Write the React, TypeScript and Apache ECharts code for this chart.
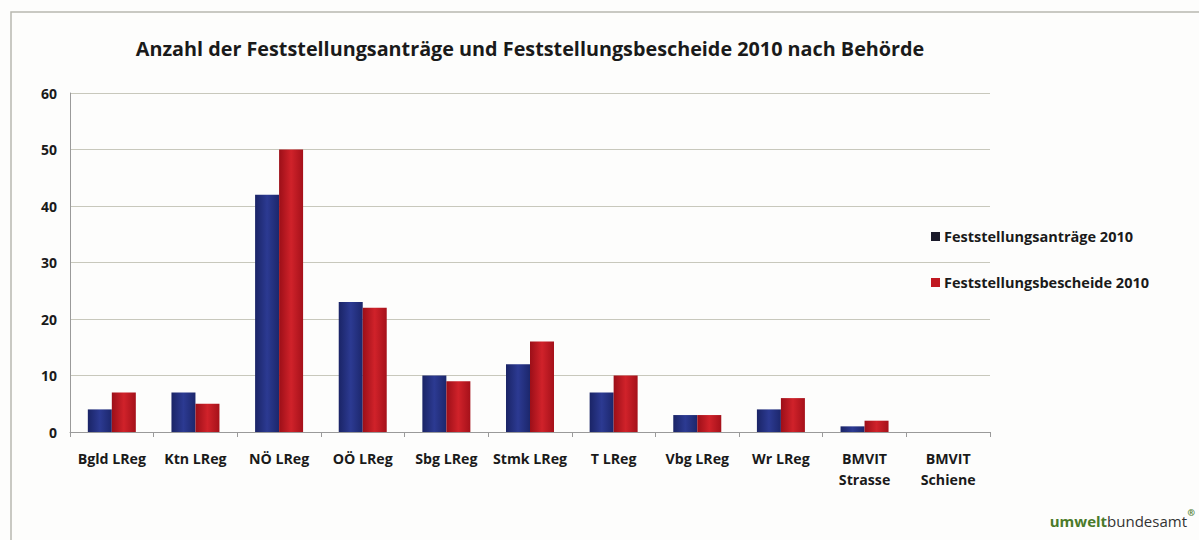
import React, { useEffect, useRef } from "react";
import * as echarts from "echarts";

const categories = [
  "Bgld LReg",
  "Ktn LReg",
  "NÖ LReg",
  "OÖ LReg",
  "Sbg LReg",
  "Stmk LReg",
  "T LReg",
  "Vbg LReg",
  "Wr LReg",
  "BMVIT\nStrasse",
  "BMVIT\nSchiene",
];
const antraege = [4, 7, 42, 23, 10, 12, 7, 3, 4, 1, 0];
const bescheide = [7, 5, 50, 22, 9, 16, 10, 3, 6, 2, 0];
const seriesNames = ["Feststellungsanträge 2010", "Feststellungsbescheide 2010"];
const titleText = "Anzahl der Feststellungsanträge und Feststellungsbescheide 2010 nach Behörde";

const FONT = "'Open Sans', Lato, sans-serif";

export default function App() {
  const ref = useRef<HTMLDivElement>(null);
  useEffect(() => {
    document.body.style.margin = "0";
    const chart = echarts.init(ref.current!, null, { renderer: "svg" });
    const blue = new echarts.graphic.LinearGradient(0, 0, 1, 0, [
      { offset: 0, color: "#1a2466" },
      { offset: 0.5, color: "#2c3a92" },
      { offset: 1, color: "#1c276c" },
    ]);
    const red = new echarts.graphic.LinearGradient(0, 0, 1, 0, [
      { offset: 0, color: "#9c0f18" },
      { offset: 0.5, color: "#d0222a" },
      { offset: 1, color: "#a5111a" },
    ]);
    chart.setOption({
      animation: false,
      backgroundColor: "#fdfdfc",
      textStyle: { fontFamily: FONT },
      title: {
        text: titleText,
        left: 525,
        top: 33,
        textAlign: "center",
        textStyle: { fontFamily: FONT, fontSize: 19.8, fontWeight: "bold", color: "#1a1a1a" },
      },
      legend: {
        orient: "vertical",
        left: 926,
        top: 224,
        itemGap: 31,
        itemWidth: 9,
        itemHeight: 9,
        icon: "rect",
        textStyle: { fontFamily: FONT, fontSize: 14.5, fontWeight: "bold", color: "#1a1a1a", padding: [0, 0, 0, -1] },
        data: [
          { name: seriesNames[0], itemStyle: { color: "#1a1a2a" } },
          { name: seriesNames[1], itemStyle: { color: "#c01820" } },
        ],
      },
      grid: { left: 70, right: 209, top: 93, bottom: 108, containLabel: false },
      xAxis: {
        type: "category",
        data: categories,
        axisLine: { lineStyle: { color: "#9a9a9a" } },
        axisTick: { show: true, alignWithLabel: false, length: 5, lineStyle: { color: "#9a9a9a" } },
        axisLabel: {
          fontFamily: FONT,
          fontSize: 14.2,
          fontWeight: "bold",
          color: "#1a1a1a",
          margin: 16,
          lineHeight: 21,
          interval: 0,
        },
      },
      yAxis: {
        type: "value",
        min: 0,
        max: 60,
        interval: 10,
        axisLine: { show: true, lineStyle: { color: "#9a9a9a" } },
        axisTick: { show: false },
        splitLine: { lineStyle: { color: "#c8c8bc" } },
        axisLabel: { fontFamily: FONT, fontSize: 14, fontWeight: "bold", color: "#1a1a1a", margin: 13 },
      },
      series: [
        {
          name: seriesNames[0],
          type: "bar",
          data: antraege,
          barWidth: 24,
          barGap: "0%",
          itemStyle: { color: blue },
        },
        {
          name: seriesNames[1],
          type: "bar",
          data: bescheide,
          barWidth: 24,
          itemStyle: { color: red },
        },
      ],
      graphic: [
        {
          type: "rect",
          shape: { x: 11, y: 12, width: 1400, height: 800 },
          style: { fill: "none", stroke: "#b8b8b0", lineWidth: 1.5 },
          silent: true,
        },
        {
          type: "text",
          right: 12,
          top: 513,
          style: {
            rich: {
              a: { fontFamily: FONT, fontSize: 15, fontWeight: "bold", fill: "#4a7a2a" },
              b: { fontFamily: FONT, fontSize: 15, fill: "#333333" },
            },
            text: "{a|umwelt}{b|bundesamt}",
          },
        },
        {
          type: "text",
          right: 4,
          top: 508,
          style: { text: "®", fontFamily: FONT, fontSize: 9, fontWeight: "bold", fill: "#4a7a2a" },
        },
      ],
    });
    return () => chart.dispose();
  }, []);
  return <div ref={ref} style={{ width: 1199, height: 540 }} />;
}
